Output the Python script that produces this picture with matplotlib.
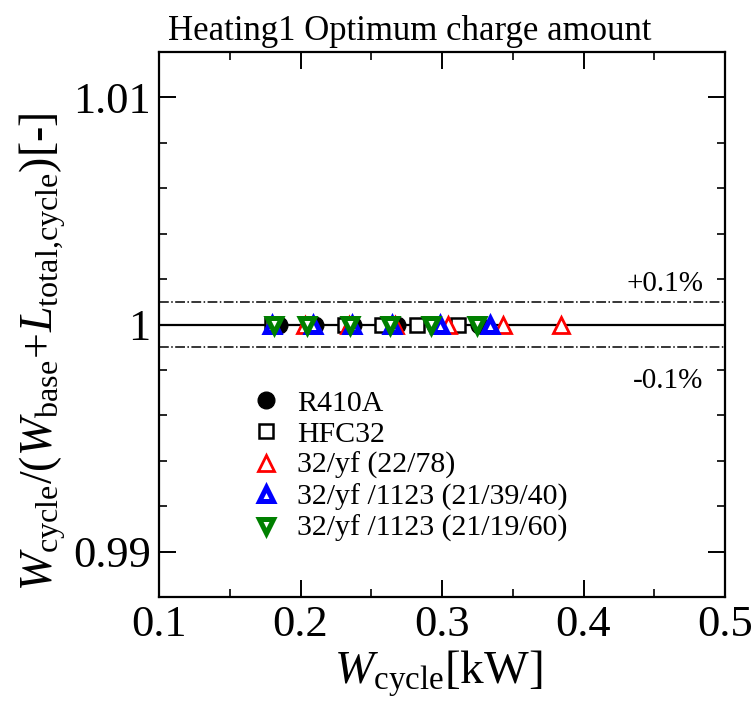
import matplotlib
matplotlib.use("Agg")
import matplotlib.pyplot as plt
from matplotlib.ticker import MultipleLocator

plt.rcParams['font.family'] = ['Liberation Serif', 'DejaVu Serif']
plt.rcParams['mathtext.fontset'] = 'custom'
plt.rcParams['mathtext.rm'] = 'Liberation Serif'
plt.rcParams['mathtext.it'] = 'Liberation Serif:italic'

# W_cycle [kW], ratio is 1 for every point
w_r410a = [0.185, 0.210, 0.237, 0.268, 0.295, 0.326]
w_hfc32 = [0.180, 0.206, 0.2315, 0.2575, 0.2825, 0.311]
w_yf = [0.203, 0.234, 0.267, 0.3045, 0.343, 0.384]
w_1123a = [0.1796, 0.2088, 0.2362, 0.2645, 0.2986, 0.3339]
w_1123b = [0.1813, 0.2044, 0.235, 0.2633, 0.2922, 0.3245]
ratio = [1.0, 1.0, 1.0, 1.0, 1.0, 1.0]

labels = ["R410A", "HFC32", "32/yf (22/78)", "32/yf /1123 (21/39/40)", "32/yf /1123 (21/19/60)"]

fig = plt.figure(figsize=(7.55, 7.15), dpi=100)
ax = fig.add_axes([0.2106, 0.165, 0.7497, 0.7622])

ax.axhline(1.0, color='black', lw=1.6, zorder=1)
ax.axhline(1.001, color='black', lw=1.1, ls='-.', zorder=1)
ax.axhline(0.999, color='black', lw=1.1, ls='-.', zorder=1)

ax.plot(w_r410a, ratio, 'o', ms=12, color='black', label=labels[0], zorder=3)
ax.plot(w_hfc32, ratio, 's', ms=10.5, mfc='white', mec='black', mew=1.8, label=labels[1], zorder=3)
ax.plot(w_yf, ratio, '^', ms=12, mfc='white', mec='red', mew=2, label=labels[2], zorder=3)
ax.plot(w_1123a, ratio, '^', ms=10, mfc='white', mec='blue', mew=3.6, label=labels[3], zorder=3)
ax.plot(w_1123b, ratio, 'v', ms=10, mfc='white', mec='green', mew=3.6, label=labels[4], zorder=3)

ax.set_xlim(0.1, 0.5)
ax.set_ylim(0.988, 1.012)
ax.set_xticks([0.1, 0.2, 0.3, 0.4, 0.5], labels=["0.1", "0.2", "0.3", "0.4", "0.5"])
ax.set_yticks([0.99, 1.0, 1.01], labels=["0.99", "1", "1.01"])
ax.xaxis.set_minor_locator(MultipleLocator(0.05))
ax.yaxis.set_minor_locator(MultipleLocator(0.002))
ax.tick_params(which='both', direction='in', top=True, right=True, labelsize=32, pad=6)
ax.tick_params(which='major', length=12, width=1.4)
ax.tick_params(which='minor', length=5.5, width=1.2)
for s in ax.spines.values():
    s.set_linewidth(1.6)

ax.set_xlabel(r'$W_{\mathrm{cycle}}$[kW]', fontsize=34)
ax.xaxis.set_label_coords(0.493, -0.095)
ax.set_ylabel(r'$W_{\mathrm{cycle}}/(W_{\mathrm{base}}\!+\!L_{\mathrm{total{,}cycle}})$[-]', fontsize=33)
ax.yaxis.set_label_coords(-0.16, 0.45)

ax.text(0.4845, 1.0018, "+0.1%", fontsize=21, ha='right', va='center')
ax.text(0.4845, 0.9975, "-0.1%", fontsize=21, ha='right', va='center')

fig.text(410 / 755, 1 - 40 / 715, "Heating1 Optimum charge amount", fontsize=25, ha='center', va='baseline')

ax.legend(loc='upper left', bbox_to_anchor=(0.165, 0.38), frameon=False, fontsize=21.5,
          handlelength=0.9, handletextpad=0.6, labelspacing=0.14, borderpad=0, borderaxespad=0)

fig.savefig("out.png", dpi=100)
